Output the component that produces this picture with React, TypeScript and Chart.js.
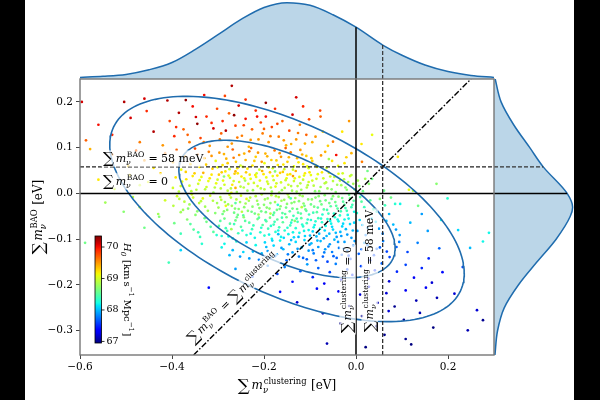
import React, { useEffect, useRef } from "react";
import { Chart, registerables } from "chart.js";
Chart.register(...registerables);

// ---------- axes ----------
const xRange = [-0.6, 0.3];
const yRange = [-0.353, 0.25];
const xTickValues = [-0.6, -0.4, -0.2, 0.0, 0.2];
const yTickValues = [-0.3, -0.2, -0.1, 0.0, 0.1, 0.2];
const refMass = 0.058; // 58 meV
const h0Range = [66.95, 70.35];
const h0Ticks = [67, 68, 69, 70];

// ---------- marginal densities (fraction of peak) ----------
const topGridX = [-0.6, -0.55, -0.5, -0.45, -0.4, -0.35, -0.3, -0.25, -0.2, -0.15, -0.1, -0.05, 0.0, 0.058, 0.1, 0.15, 0.2, 0.25, 0.3];
const topDensity = [0.02, 0.035, 0.06, 0.12, 0.215, 0.383, 0.578, 0.777, 0.933, 0.995, 0.961, 0.838, 0.675, 0.443, 0.31, 0.183, 0.098, 0.047, 0.021];
const rightGridY = [-0.353, -0.3, -0.25, -0.2, -0.15, -0.1, -0.05, -0.03, 0.0, 0.058, 0.1, 0.15, 0.2, 0.25];
const rightDensity = [0.012, 0.045, 0.13, 0.31, 0.545, 0.79, 0.97, 1.0, 0.93, 0.626, 0.455, 0.25, 0.09, 0.015];

// ---------- confidence contours ----------
const contourCenter = [-0.15, -0.034];
const contourSigma = [0.155, 0.099];
const contourRho = -0.57;
const contourLevels = [2.3, 6.18];

// ---------- MCMC samples: [sum m clustering, sum m BAO, H0] ----------
const samplesHigh: number[][] = [
  [-0.46,0.207,70.1],[-0.37,0.204,70.3],[-0.33,0.215,70.0],[-0.27,0.235,70.2],[-0.285,0.213,69.8],[-0.196,0.198,70.3],
  [-0.13,0.21,70.1],[-0.24,0.205,69.9],[-0.41,0.203,70.2],[-0.596,0.2,70.1],[-0.504,0.2,70.2],
  [-0.587,0.116,69.7],[-0.56,0.15,70.0],[-0.53,0.128,69.9],
  [-0.49,0.165,70.1],[-0.47,0.112,69.6],[-0.455,0.18,69.9],[-0.44,0.135,70.2],[-0.42,0.105,69.5],[-0.405,0.158,69.8],
  [-0.395,0.125,69.9],[-0.385,0.176,70.2],[-0.375,0.14,69.7],[-0.362,0.112,69.6],[-0.355,0.19,70.0],[-0.345,0.152,70.3],
  [-0.338,0.121,69.8],[-0.325,0.168,69.9],[-0.318,0.104,69.5],[-0.31,0.142,70.1],[-0.302,0.185,69.8],
  [-0.296,0.118,69.6],[-0.29,0.158,69.9],[-0.283,0.137,70.2],[-0.276,0.175,69.7],[-0.27,0.109,69.5],[-0.262,0.148,69.8],
  [-0.255,0.192,70.1],[-0.248,0.126,69.6],[-0.24,0.163,70.0],[-0.233,0.102,69.4],[-0.226,0.14,69.7],[-0.218,0.181,69.9],
  [-0.212,0.118,69.5],[-0.207,0.155,69.8],[-0.203,0.131,69.6],[-0.265,0.171,70.3],
  [-0.19,0.112,69.5],[-0.183,0.145,69.8],[-0.176,0.185,69.9],[-0.168,0.124,69.6],[-0.16,0.158,69.7],[-0.152,0.105,69.4],
  [-0.145,0.137,69.8],[-0.138,0.172,70.1],[-0.13,0.118,69.5],[-0.122,0.15,69.6],[-0.115,0.19,69.9],[-0.108,0.128,69.7],
  [-0.102,0.162,69.8],[-0.196,0.168,70.0],
  [-0.095,0.112,69.4],[-0.078,0.181,69.8],[-0.077,0.168,69.7],[-0.072,0.135,69.3],[-0.05,0.113,69.6],[-0.03,0.135,69.2],
  [-0.015,0.158,69.5],[0.035,0.128,69.1],[0.012,0.108,69.2],
  [-0.391,0.145,69.9],[-0.366,0.128,69.7],[-0.348,0.167,70.1],[-0.331,0.112,69.6],[-0.314,0.154,69.9],[-0.293,0.131,69.7],
  [-0.279,0.102,69.5],[-0.258,0.122,69.6],[-0.244,0.149,69.8],[-0.229,0.117,69.5],[-0.215,0.168,70.0],[-0.2,0.141,69.7],
  [-0.186,0.125,69.6],[-0.171,0.152,69.8],[-0.157,0.116,69.5],[-0.141,0.108,69.4],[-0.126,0.132,69.6],[-0.111,0.109,69.4],
  [-0.088,0.124,69.5],[-0.061,0.104,69.3],
];

const samplesUpper: number[][] = [
  [-0.578,0.097,69.4],[-0.53,0.085,69.6],
  [-0.495,0.06,69.3],[-0.478,0.093,69.7],[-0.46,0.072,69.5],[-0.44,0.056,69.2],[-0.415,0.088,69.6],
  [-0.398,0.068,69.4],[-0.39,0.095,69.7],[-0.38,0.052,69.1],[-0.372,0.081,69.5],[-0.36,0.064,69.3],[-0.35,0.098,69.8],
  [-0.34,0.058,69.2],[-0.33,0.077,69.4],[-0.32,0.091,69.6],[-0.312,0.054,69.3],[-0.305,0.071,69.1],
  [-0.297,0.089,69.5],[-0.29,0.062,69.2],[-0.282,0.076,69.4],[-0.275,0.053,69.0],[-0.268,0.096,69.7],[-0.261,0.069,69.3],
  [-0.254,0.084,69.5],[-0.246,0.058,69.1],[-0.24,0.073,69.4],[-0.232,0.092,69.6],[-0.225,0.061,69.2],[-0.218,0.08,69.3],
  [-0.21,0.052,69.0],[-0.205,0.069,69.5],[-0.258,0.055,69.2],[-0.228,0.099,69.7],
  [-0.197,0.087,69.4],[-0.19,0.057,69.1],[-0.184,0.073,69.3],[-0.177,0.094,69.6],[-0.17,0.062,69.2],[-0.163,0.08,69.5],
  [-0.156,0.053,69.0],[-0.149,0.069,69.3],[-0.142,0.09,69.6],[-0.135,0.059,69.1],[-0.128,0.077,69.4],[-0.121,0.095,69.5],
  [-0.115,0.064,69.2],[-0.108,0.082,69.3],[-0.103,0.055,69.0],[-0.153,0.099,69.7],
  [-0.095,0.071,69.3],[-0.067,0.091,69.4],[-0.059,0.075,68.8],[-0.043,0.084,70.0],[-0.085,0.058,69.1],[-0.025,0.066,69.2],
  [-0.01,0.088,69.4],[0.013,0.069,69.6],[0.091,0.08,69.2],
  [-0.326,0.063,69.3],[-0.314,0.082,69.5],[-0.301,0.057,69.1],[-0.287,0.086,69.4],[-0.279,0.066,69.3],[-0.266,0.078,69.6],
  [-0.251,0.061,69.0],[-0.243,0.087,69.4],[-0.236,0.054,69.2],[-0.221,0.071,69.3],[-0.213,0.089,69.5],[-0.199,0.066,69.1],
  [-0.193,0.081,69.4],[-0.181,0.055,69.0],[-0.173,0.072,69.3],[-0.166,0.088,69.5],[-0.158,0.063,69.2],[-0.146,0.079,69.4],
  [-0.137,0.052,69.0],[-0.125,0.068,69.2],[-0.117,0.085,69.4],[-0.106,0.059,69.1],[-0.097,0.077,69.3],[-0.088,0.062,69.2],
  [-0.076,0.083,69.5],[-0.064,0.056,69.0],[-0.052,0.071,69.2],[-0.039,0.06,69.1],[-0.021,0.079,69.3],[-0.344,0.085,69.6],
  [-0.56,0.03,69.2],[-0.525,0.01,69.0],
  [-0.492,0.04,69.2],[-0.47,0.018,69.0],[-0.452,0.025,69.1],[-0.425,0.044,69.3],
  [-0.398,0.012,69.0],[-0.392,0.035,69.2],[-0.385,0.004,68.9],[-0.378,0.026,69.1],[-0.37,0.047,69.3],[-0.362,0.017,69.0],
  [-0.355,0.038,69.2],[-0.347,0.008,68.9],[-0.34,0.029,69.1],[-0.332,0.045,69.4],[-0.325,0.014,69.0],[-0.318,0.033,69.2],
  [-0.31,0.002,68.8],[-0.304,0.022,69.1],
  [-0.298,0.041,69.3],[-0.294,0.011,68.9],[-0.289,0.028,69.1],[-0.284,0.048,69.2],[-0.279,0.006,68.9],[-0.274,0.034,69.0],
  [-0.269,0.019,69.2],[-0.264,0.043,69.3],[-0.259,0.003,68.8],[-0.254,0.025,69.0],[-0.249,0.037,69.2],[-0.244,0.013,68.9],
  [-0.239,0.046,69.3],[-0.234,0.021,69.0],[-0.229,0.032,69.1],[-0.224,0.007,68.8],[-0.219,0.04,69.2],[-0.214,0.016,69.0],
  [-0.209,0.028,69.1],[-0.204,0.049,69.4],[-0.287,0.037,68.7],[-0.262,0.012,69.4],[-0.241,0.028,68.8],[-0.216,0.044,69.0],
  [-0.271,0.001,69.1],
  [-0.199,0.009,68.9],[-0.195,0.035,69.1],[-0.191,0.021,69.0],[-0.187,0.046,69.3],[-0.183,0.004,68.8],[-0.179,0.029,69.0],
  [-0.175,0.015,69.1],[-0.171,0.039,69.2],[-0.167,0.002,68.8],[-0.163,0.024,69.0],[-0.159,0.047,69.3],[-0.155,0.012,68.9],
  [-0.151,0.033,69.1],[-0.147,0.019,69.0],[-0.143,0.042,69.2],[-0.139,0.006,68.8],[-0.135,0.027,69.0],[-0.131,0.049,69.4],
  [-0.127,0.016,68.9],[-0.123,0.036,69.1],[-0.119,0.008,68.8],[-0.115,0.03,69.0],[-0.111,0.044,69.2],[-0.107,0.013,68.9],
  [-0.103,0.025,69.0],[-0.176,0.048,68.7],[-0.137,0.038,69.5],
  [-0.098,0.04,69.1],[-0.092,0.017,68.9],[-0.086,0.032,69.0],[-0.08,0.005,68.7],[-0.074,0.046,69.2],[-0.068,0.022,68.9],
  [-0.062,0.011,68.8],[-0.056,0.037,69.0],[-0.05,0.027,68.9],[-0.044,0.003,68.7],[-0.038,0.043,69.1],[-0.032,0.018,68.8],
  [-0.026,0.031,68.9],[-0.02,0.008,68.7],[-0.013,0.038,69.0],[-0.006,0.021,68.8],
  [0.025,0.049,68.6],[0.035,0.032,68.6],[0.02,0.032,68.8],[0.007,0.016,68.7],[0.061,0.006,68.6],
  [0.124,0.006,68.9],[0.115,0.008,69.1],[0.175,0.021,68.7],
  [-0.381,0.016,69.0],[-0.369,0.031,69.2],[-0.358,0.005,68.9],[-0.351,0.044,69.3],[-0.343,0.021,69.0],[-0.336,0.036,69.1],
  [-0.328,0.009,68.9],[-0.321,0.027,69.1],[-0.314,0.041,69.2],[-0.307,0.013,68.9],[-0.301,0.03,69.0],[-0.292,0.046,69.3],
  [-0.286,0.019,69.0],[-0.277,0.039,69.1],[-0.272,0.011,68.9],[-0.266,0.027,69.0],[-0.257,0.044,69.2],[-0.251,0.015,68.9],
  [-0.243,0.033,69.1],[-0.236,0.006,68.8],[-0.231,0.041,69.2],[-0.222,0.023,69.0],[-0.217,0.036,69.1],[-0.207,0.011,68.9],
  [-0.201,0.042,69.2],[-0.193,0.026,69.0],[-0.185,0.013,68.9],[-0.181,0.038,69.1],[-0.173,0.022,69.0],[-0.165,0.045,69.3],
  [-0.161,0.007,68.8],[-0.153,0.029,69.0],[-0.149,0.041,69.2],[-0.141,0.016,68.9],[-0.133,0.033,69.1],[-0.129,0.004,68.8],
  [-0.121,0.022,68.9],[-0.113,0.039,69.1],[-0.105,0.018,68.9],[-0.101,0.046,69.2],[-0.095,0.028,69.0],[-0.089,0.005,68.7],
  [-0.083,0.042,69.1],[-0.077,0.014,68.8],[-0.071,0.033,69.0],[-0.065,0.024,68.9],[-0.059,0.045,69.1],[-0.053,0.009,68.7],
  [-0.047,0.036,68.9],[-0.041,0.019,68.8],[-0.035,0.028,68.9],[-0.029,0.044,69.0],[-0.023,0.013,68.7],[-0.017,0.025,68.8],
  [-0.01,0.04,68.9],[-0.003,0.009,68.7],[0.004,0.028,68.8],[0.015,0.005,68.6],[0.028,0.021,68.7],[-0.262,0.048,69.4],
];

const samplesCore: number[][] = [
  [-0.545,-0.02,68.8],[-0.505,-0.04,68.7],
  [-0.485,-0.008,68.9],[-0.47,-0.03,68.9],[-0.43,-0.045,68.8],[-0.415,-0.015,69.0],
  [-0.397,-0.027,68.9],[-0.389,-0.006,69.0],[-0.381,-0.041,68.8],[-0.373,-0.018,68.9],[-0.365,-0.033,68.7],[-0.357,-0.002,69.0],
  [-0.349,-0.047,68.7],[-0.341,-0.021,68.9],[-0.333,-0.011,69.1],[-0.322,-0.038,68.8],[-0.311,-0.016,68.9],
  [-0.299,-0.031,68.8],[-0.295,-0.008,68.9],[-0.29,-0.045,68.6],[-0.285,-0.019,68.8],[-0.28,-0.036,68.7],[-0.275,-0.003,69.0],
  [-0.27,-0.027,68.8],[-0.265,-0.042,68.6],[-0.26,-0.013,68.9],[-0.255,-0.034,68.7],[-0.25,-0.005,69.0],[-0.245,-0.048,68.5],
  [-0.24,-0.022,68.8],[-0.235,-0.038,68.7],[-0.23,-0.009,68.9],[-0.225,-0.029,68.7],[-0.22,-0.044,68.6],[-0.215,-0.016,68.8],
  [-0.21,-0.032,68.7],[-0.205,-0.002,68.9],[-0.283,-0.027,69.1],[-0.262,-0.021,68.5],[-0.238,-0.012,69.1],[-0.212,-0.046,68.8],
  [-0.248,-0.04,68.9],
  [-0.2,-0.025,68.7],[-0.196,-0.041,68.6],[-0.192,-0.011,68.8],[-0.188,-0.033,68.7],[-0.184,-0.004,68.9],[-0.18,-0.047,68.5],
  [-0.176,-0.019,68.8],[-0.172,-0.036,68.6],[-0.168,-0.008,68.9],[-0.164,-0.028,68.7],[-0.16,-0.043,68.5],[-0.156,-0.014,68.8],
  [-0.152,-0.031,68.6],[-0.148,-0.002,68.9],[-0.144,-0.039,68.5],[-0.14,-0.021,68.7],[-0.136,-0.049,68.4],[-0.132,-0.01,68.8],
  [-0.128,-0.034,68.6],[-0.124,-0.017,68.7],[-0.12,-0.044,68.5],[-0.116,-0.006,68.8],[-0.112,-0.027,68.6],[-0.108,-0.038,68.5],
  [-0.104,-0.013,68.7],[-0.17,-0.025,68.3],[-0.142,-0.011,68.4],[-0.186,-0.044,68.9],[-0.118,-0.03,68.9],
  [-0.098,-0.024,68.6],[-0.093,-0.042,68.4],[-0.088,-0.009,68.7],[-0.083,-0.031,68.5],[-0.078,-0.017,68.6],[-0.073,-0.046,68.3],
  [-0.068,-0.004,68.7],[-0.063,-0.036,68.4],[-0.058,-0.021,68.6],[-0.053,-0.012,68.6],[-0.048,-0.044,68.3],[-0.043,-0.027,68.5],
  [-0.038,-0.007,68.7],[-0.033,-0.039,68.4],[-0.028,-0.018,68.5],[-0.023,-0.032,68.4],[-0.018,-0.047,68.2],[-0.013,-0.011,68.6],
  [-0.008,-0.025,68.4],[-0.004,-0.04,68.2],
  [0.076,-0.009,68.6],[0.096,-0.023,68.2],[0.085,-0.023,68.3],[0.012,-0.018,68.5],[0.038,-0.035,68.4],[0.052,-0.012,68.7],
  [0.135,-0.027,68.6],[0.143,-0.045,67.9],[0.199,-0.011,68.3],
  [-0.384,-0.012,68.9],[-0.376,-0.036,68.8],[-0.362,-0.024,68.8],[-0.354,-0.009,69.0],[-0.345,-0.039,68.7],[-0.337,-0.017,68.9],
  [-0.328,-0.029,68.8],[-0.317,-0.005,69.0],[-0.306,-0.043,68.7],[-0.302,-0.021,68.8],[-0.293,-0.014,68.9],[-0.287,-0.039,68.7],
  [-0.278,-0.024,68.8],[-0.272,-0.009,68.9],[-0.263,-0.033,68.7],[-0.257,-0.047,68.6],[-0.252,-0.019,68.8],[-0.243,-0.03,68.7],
  [-0.233,-0.016,68.8],[-0.227,-0.04,68.6],[-0.218,-0.006,68.9],[-0.213,-0.024,68.7],[-0.206,-0.039,68.6],[-0.198,-0.013,68.8],
  [-0.194,-0.031,68.7],[-0.186,-0.021,68.7],[-0.178,-0.042,68.5],[-0.174,-0.006,68.9],[-0.166,-0.034,68.6],[-0.162,-0.016,68.8],
  [-0.154,-0.045,68.5],[-0.15,-0.023,68.7],[-0.146,-0.008,68.8],[-0.138,-0.033,68.6],[-0.134,-0.019,68.7],[-0.126,-0.042,68.5],
  [-0.122,-0.004,68.8],[-0.114,-0.022,68.7],[-0.11,-0.035,68.6],[-0.102,-0.046,68.4],[-0.096,-0.013,68.7],[-0.091,-0.029,68.6],
  [-0.085,-0.041,68.5],[-0.081,-0.006,68.7],[-0.075,-0.024,68.6],[-0.07,-0.035,68.5],[-0.066,-0.015,68.6],[-0.06,-0.044,68.4],
  [-0.055,-0.028,68.5],[-0.05,-0.006,68.7],[-0.045,-0.019,68.6],[-0.04,-0.033,68.5],[-0.035,-0.048,68.3],[-0.03,-0.01,68.6],
  [-0.025,-0.025,68.5],[-0.02,-0.038,68.4],[-0.015,-0.003,68.6],[-0.01,-0.03,68.4],[-0.005,-0.016,68.5],[0.002,-0.043,68.3],
  [0.009,-0.008,68.5],[0.018,-0.03,68.4],[0.031,-0.015,68.5],[0.045,-0.04,68.3],[0.063,-0.026,68.4],
  [-0.428,-0.051,68.7],[-0.46,-0.075,68.6],
  [-0.395,-0.065,68.6],[-0.381,-0.088,68.4],[-0.367,-0.057,68.7],[-0.353,-0.079,68.5],[-0.339,-0.095,68.4],[-0.325,-0.062,68.6],
  [-0.31,-0.084,68.5],
  [-0.298,-0.071,68.5],[-0.292,-0.093,68.3],[-0.286,-0.055,68.6],[-0.28,-0.082,68.4],[-0.274,-0.066,68.5],[-0.268,-0.098,68.2],
  [-0.262,-0.059,68.6],[-0.256,-0.087,68.4],[-0.25,-0.073,68.5],[-0.244,-0.052,68.7],[-0.238,-0.091,68.3],[-0.232,-0.064,68.5],
  [-0.226,-0.078,68.4],[-0.22,-0.097,68.2],[-0.214,-0.056,68.6],[-0.208,-0.085,68.3],[-0.203,-0.069,68.5],[-0.271,-0.078,68.8],
  [-0.199,-0.092,68.3],[-0.195,-0.061,68.5],[-0.191,-0.077,68.4],[-0.187,-0.053,68.6],[-0.183,-0.099,68.2],[-0.179,-0.068,68.4],
  [-0.175,-0.084,68.3],[-0.171,-0.057,68.5],[-0.167,-0.074,68.4],[-0.163,-0.095,68.2],[-0.159,-0.063,68.5],[-0.155,-0.081,68.3],
  [-0.151,-0.052,68.6],[-0.147,-0.089,68.2],[-0.143,-0.07,68.4],[-0.139,-0.058,68.5],[-0.135,-0.096,68.1],[-0.131,-0.076,68.3],
  [-0.127,-0.062,68.4],[-0.123,-0.086,68.2],[-0.119,-0.054,68.5],[-0.115,-0.072,68.3],[-0.111,-0.093,68.1],[-0.107,-0.065,68.4],
  [-0.103,-0.08,68.2],[-0.169,-0.089,68.0],[-0.133,-0.06,68.7],
  [-0.098,-0.058,68.3],[-0.094,-0.083,68.1],[-0.09,-0.069,68.2],[-0.086,-0.094,68.0],[-0.082,-0.054,68.4],[-0.078,-0.077,68.2],
  [-0.074,-0.063,68.3],[-0.07,-0.098,67.9],[-0.066,-0.071,68.2],[-0.062,-0.056,68.3],[-0.058,-0.088,68.0],[-0.054,-0.066,68.2],
  [-0.05,-0.079,68.1],[-0.046,-0.052,68.3],[-0.042,-0.095,67.9],[-0.038,-0.061,68.2],[-0.034,-0.084,68.0],[-0.03,-0.072,68.1],
  [-0.025,-0.057,68.2],[-0.019,-0.09,67.9],[-0.013,-0.067,68.1],[-0.007,-0.081,68.0],
  [0.072,-0.045,68.0],[0.008,-0.058,68.1],[0.025,-0.075,67.9],[0.043,-0.062,68.1],[0.058,-0.088,67.8],[0.081,-0.068,68.0],
  [0.095,-0.091,67.9],[0.118,-0.064,68.0],[0.156,-0.082,67.9],[0.185,-0.058,68.2],[0.222,-0.08,68.1],[0.289,-0.086,68.2],
  [-0.36,-0.067,68.5],[-0.343,-0.085,68.4],[-0.329,-0.054,68.6],[-0.316,-0.073,68.5],[-0.303,-0.091,68.3],[-0.295,-0.06,68.5],
  [-0.283,-0.076,68.4],[-0.277,-0.094,68.2],[-0.265,-0.067,68.4],[-0.259,-0.052,68.6],[-0.247,-0.081,68.3],[-0.241,-0.06,68.5],
  [-0.229,-0.088,68.2],[-0.223,-0.07,68.4],[-0.211,-0.053,68.5],[-0.206,-0.075,68.3],[-0.197,-0.058,68.4],[-0.189,-0.09,68.2],
  [-0.185,-0.071,68.3],[-0.177,-0.062,68.4],[-0.169,-0.081,68.2],[-0.161,-0.053,68.4],[-0.157,-0.097,68.1],[-0.149,-0.075,68.3],
  [-0.141,-0.064,68.3],[-0.137,-0.085,68.2],[-0.129,-0.055,68.4],[-0.125,-0.095,68.0],[-0.117,-0.068,68.3],[-0.113,-0.082,68.2],
  [-0.105,-0.057,68.3],[-0.1,-0.092,68.0],[-0.092,-0.074,68.2],[-0.088,-0.061,68.3],[-0.08,-0.088,68.0],[-0.076,-0.055,68.3],
  [-0.068,-0.081,68.1],[-0.064,-0.093,68.0],[-0.056,-0.06,68.2],[-0.052,-0.073,68.1],[-0.044,-0.086,68.0],[-0.04,-0.057,68.2],
  [-0.032,-0.093,67.9],[-0.028,-0.066,68.1],[-0.022,-0.078,68.0],[-0.016,-0.055,68.2],[-0.01,-0.097,67.9],[-0.004,-0.064,68.1],
  [0.003,-0.082,67.9],[0.014,-0.069,68.0],[0.021,-0.091,67.8],[0.034,-0.055,68.1],[0.05,-0.077,67.9],[0.066,-0.06,68.0],
  [0.087,-0.079,67.9],
];

const samplesLower: number[][] = [
  [-0.589,-0.108,68.6],[-0.381,-0.124,68.1],[-0.335,-0.11,68.3],
  [-0.292,-0.118,68.2],[-0.275,-0.135,68.0],[-0.26,-0.105,68.3],[-0.245,-0.128,68.1],[-0.232,-0.142,67.9],[-0.218,-0.113,68.2],
  [-0.205,-0.131,68.0],
  [-0.198,-0.107,68.1],[-0.192,-0.126,67.9],[-0.186,-0.141,67.8],[-0.179,-0.114,68.1],[-0.172,-0.133,67.9],[-0.165,-0.103,68.2],
  [-0.158,-0.122,68.0],[-0.151,-0.146,67.7],[-0.145,-0.111,68.0],[-0.138,-0.129,67.9],[-0.131,-0.106,68.1],[-0.124,-0.138,67.8],
  [-0.118,-0.118,68.0],[-0.112,-0.102,68.1],[-0.107,-0.144,67.7],[-0.103,-0.125,67.9],
  [-0.097,-0.109,68.0],[-0.092,-0.131,67.8],[-0.087,-0.146,67.7],[-0.082,-0.117,67.9],[-0.077,-0.104,68.0],[-0.072,-0.138,67.7],
  [-0.067,-0.122,67.9],[-0.062,-0.149,67.6],[-0.057,-0.111,67.9],[-0.052,-0.128,67.8],[-0.047,-0.101,68.0],[-0.042,-0.141,67.7],
  [-0.037,-0.119,67.8],[-0.031,-0.134,67.7],[-0.025,-0.106,67.9],[-0.019,-0.125,67.8],[-0.012,-0.143,67.6],[-0.006,-0.114,67.8],
  [0.006,-0.132,67.7],[0.018,-0.108,67.9],[0.031,-0.146,67.5],[0.045,-0.121,67.7],[0.059,-0.104,67.8],[0.073,-0.139,67.6],
  [0.088,-0.117,67.7],[0.112,-0.128,67.6],[0.134,-0.108,67.8],[0.158,-0.142,67.5],[0.181,-0.12,67.7],[0.248,-0.119,68.0],
  [0.276,-0.105,68.2],
  [-0.286,-0.11,68.2],[-0.268,-0.124,68.0],[-0.252,-0.138,67.9],[-0.238,-0.107,68.1],[-0.224,-0.127,68.0],[-0.211,-0.145,67.8],
  [-0.195,-0.117,68.0],[-0.182,-0.103,68.1],[-0.176,-0.137,67.8],[-0.162,-0.119,67.9],[-0.148,-0.133,67.8],[-0.141,-0.102,68.0],
  [-0.127,-0.121,67.9],[-0.115,-0.141,67.7],[-0.101,-0.112,67.9],[-0.094,-0.124,67.8],[-0.084,-0.103,68.0],[-0.069,-0.129,67.8],
  [-0.06,-0.116,67.8],[-0.049,-0.137,67.7],[-0.039,-0.106,67.9],[-0.027,-0.121,67.8],[-0.016,-0.136,67.6],[-0.003,-0.104,67.9],
  [0.012,-0.122,67.7],[0.025,-0.113,67.8],[0.039,-0.135,67.6],[0.052,-0.118,67.7],[0.067,-0.127,67.6],[0.094,-0.106,67.8],
  [-0.407,-0.151,68.4],[-0.262,-0.165,67.9],[-0.225,-0.182,67.6],
  [-0.192,-0.158,67.8],[-0.171,-0.176,67.6],[-0.155,-0.161,67.8],[-0.138,-0.193,67.4],[-0.121,-0.17,67.7],[-0.106,-0.155,67.9],
  [-0.094,-0.183,67.5],[-0.082,-0.163,67.7],[-0.069,-0.197,67.3],[-0.057,-0.172,67.6],[-0.044,-0.154,67.8],[-0.032,-0.188,67.4],
  [-0.019,-0.166,67.6],[-0.008,-0.178,67.5],
  [0.011,-0.159,67.6],[0.027,-0.186,67.3],[0.041,-0.168,67.5],[0.056,-0.153,67.7],[0.072,-0.192,67.2],[0.089,-0.171,67.5],
  [0.108,-0.156,67.6],[0.126,-0.184,67.3],[0.143,-0.163,67.5],[0.165,-0.195,67.2],[0.188,-0.172,67.4],[0.232,-0.161,67.6],
];

const samplesTail: number[][] = [
  [-0.32,-0.206,67.4],[-0.165,-0.215,67.4],[-0.128,-0.238,67.2],
  [-0.085,-0.208,67.4],[-0.061,-0.231,67.1],[-0.038,-0.214,67.3],[-0.015,-0.246,67.0],
  [0.009,-0.221,67.2],[0.028,-0.204,67.4],[0.047,-0.239,67.1],[0.066,-0.218,67.2],[0.084,-0.247,67.0],
  [0.108,-0.212,67.3],[0.131,-0.234,67.1],[0.152,-0.206,67.3],[0.176,-0.228,67.1],[0.214,-0.219,67.2],
  [-0.072,-0.262,67.1],[-0.034,-0.284,66.9],[0.013,-0.268,67.0],[0.044,-0.29,67.0],[0.071,-0.257,67.2],[0.104,-0.276,67.0],
  [0.139,-0.261,67.1],[0.168,-0.293,66.9],[0.263,-0.255,67.2],[0.276,-0.277,67.0],
  [-0.063,-0.328,67.1],[0.021,-0.336,66.9],[0.062,-0.309,67.0],[0.108,-0.318,67.0],[0.12,-0.33,66.9],[0.243,-0.299,67.1],
];

// ---------- styling ----------
const SERIF = '"DejaVu Serif", "Liberation Serif", serif';
const C0 = "#1f6cae";
const C0_FILL = "rgba(31,119,180,0.3)";

// matplotlib "jet"
const jetR = [[0, 0], [0.35, 0], [0.66, 1], [0.89, 1], [1, 0.5]];
const jetG = [[0, 0], [0.125, 0], [0.375, 1], [0.64, 1], [0.91, 0], [1, 0]];
const jetB = [[0, 0.5], [0.11, 1], [0.34, 1], [0.65, 0], [1, 0]];
function seg(s: number[][], t: number) {
  for (let i = 1; i < s.length; i++) {
    if (t <= s[i][0]) {
      const [x0, y0] = s[i - 1];
      const [x1, y1] = s[i];
      return y0 + ((t - x0) / (x1 - x0)) * (y1 - y0);
    }
  }
  return s[s.length - 1][1];
}
function jet(t: number) {
  const c = Math.max(0, Math.min(1, t));
  return `rgb(${Math.round(255 * seg(jetR, c))},${Math.round(255 * seg(jetG, c))},${Math.round(255 * seg(jetB, c))})`;
}
const h0Color = (h: number) => jet((h - h0Range[0]) / (h0Range[1] - h0Range[0]));

// ---------- math text ----------
type Tok =
  | { k: "sum" }
  | { k: "rm"; t: string }
  | { k: "it"; t: string }
  | { k: "ss"; sub?: string; sup?: string };
const fnt = (s: number, it: boolean) => `${it ? "italic " : ""}${s}px ${SERIF}`;
function runMath(ctx: CanvasRenderingContext2D, toks: Tok[], fs: number, draw: boolean) {
  let x = 0;
  for (const tk of toks) {
    if (tk.k === "sum") {
      ctx.font = fnt(fs * 1.4, false);
      if (draw) ctx.fillText("\u2211", x, fs * 0.14);
      x += ctx.measureText("\u2211").width + fs * 0.15;
    } else if (tk.k === "rm" || tk.k === "it") {
      ctx.font = fnt(fs, tk.k === "it");
      if (draw) ctx.fillText(tk.t, x, 0);
      x += ctx.measureText(tk.t).width;
    } else {
      const s = fs * 0.7;
      let w = 0;
      if (tk.sub) {
        ctx.font = fnt(s, true);
        if (draw) ctx.fillText(tk.sub, x, fs * 0.3);
        w = Math.max(w, ctx.measureText(tk.sub).width);
      }
      if (tk.sup) {
        ctx.font = fnt(s, false);
        const dx = tk.sub ? fs * 0.06 : 0;
        if (draw) ctx.fillText(tk.sup, x + dx, -fs * 0.45);
        w = Math.max(w, ctx.measureText(tk.sup).width + dx);
      }
      x += w + fs * 0.06;
    }
  }
  return x;
}
function drawMath(
  ctx: CanvasRenderingContext2D, toks: Tok[], fs: number, px: number, py: number,
  angle: number, align: "left" | "center", box: boolean
) {
  ctx.save();
  ctx.translate(px, py);
  ctx.rotate(angle);
  ctx.textBaseline = "alphabetic";
  ctx.textAlign = "left";
  const w = runMath(ctx, toks, fs, false);
  const x0 = align === "center" ? -w / 2 : 0;
  if (box) {
    ctx.fillStyle = "rgba(255,255,255,0.7)";
    ctx.fillRect(x0 - 1.5, -fs * 1.05, w + 3, fs * 1.5);
  }
  ctx.translate(x0, 0);
  ctx.fillStyle = "#000";
  runMath(ctx, toks, fs, true);
  ctx.restore();
}
const mBAO: Tok[] = [{ k: "sum" }, { k: "it", t: "m" }, { k: "ss", sub: "\u03bd", sup: "BAO" }];
const mClus: Tok[] = [{ k: "sum" }, { k: "it", t: "m" }, { k: "ss", sub: "\u03bd", sup: "clustering" }];

const fmtTick = (v: number) => (v < 0 ? "\u2212" : "") + Math.abs(v).toFixed(1);

export default function App() {
  const mainRef = useRef<HTMLCanvasElement>(null);
  const topRef = useRef<HTMLCanvasElement>(null);
  const rightRef = useRef<HTMLCanvasElement>(null);

  useEffect(() => {
    const samples = [...samplesHigh, ...samplesUpper, ...samplesCore, ...samplesLower, ...samplesTail];
    const ellipse = (k: number) => {
      const pts: { x: number; y: number }[] = [];
      const r = Math.sqrt(k);
      const q = Math.sqrt(1 - contourRho * contourRho);
      for (let i = 0; i <= 180; i++) {
        const th = (i / 180) * 2 * Math.PI;
        pts.push({
          x: contourCenter[0] + r * contourSigma[0] * Math.cos(th),
          y: contourCenter[1] + r * contourSigma[1] * (contourRho * Math.cos(th) + q * Math.sin(th)),
        });
      }
      return pts;
    };
    const lineDs = (data: { x: number; y: number }[], color: string, width: number, dash: number[] = []) => ({
      type: "scatter" as const,
      data,
      showLine: true,
      borderColor: color,
      borderWidth: width,
      borderDash: dash,
      pointRadius: 0,
      fill: false,
      tension: 0,
      order: 1,
    });

    const tickFont = { family: SERIF, size: 10.5 };

    const overlay = {
      id: "overlay",
      afterDatasetsDraw(chart: any) {
        const ctx: CanvasRenderingContext2D = chart.ctx;
        const xs = chart.scales.x;
        const ys = chart.scales.y;
        const ca = chart.chartArea;
        const X = (v: number) => xs.getPixelForValue(v);
        const Y = (v: number) => ys.getPixelForValue(v);
        const fs = 11;
        ctx.save();
        ctx.strokeStyle = "#777";
        ctx.lineWidth = 1.4;
        ctx.strokeRect(ca.left, ca.top, ca.right - ca.left, ca.bottom - ca.top);
        ctx.restore();
        drawMath(ctx, [...mBAO, { k: "rm", t: " = 58 meV" }], fs, X(-0.55), Y(0.069), 0, "left", true);
        drawMath(ctx, [...mBAO, { k: "rm", t: " = 0" }], fs, X(-0.55), Y(0.019), 0, "left", true);
        drawMath(ctx, [...mClus, { k: "rm", t: " = 0" }], fs, X(-0.011), Y(-0.305), -Math.PI / 2, "left", true);
        drawMath(ctx, [...mClus, { k: "rm", t: " = 58 meV" }], fs, X(0.037), Y(-0.303), -Math.PI / 2, "left", true);
        const ang = Math.atan2(Y(0.2) - Y(-0.3), X(0.2) - X(-0.3));
        drawMath(ctx, [...mBAO, { k: "rm", t: " = " }, ...mClus], fs, X(-0.356), Y(-0.327), ang, "left", true);
        drawMath(ctx, [...mClus, { k: "rm", t: " [eV]" }], 12, (ca.left + ca.right) / 2, 389, 0, "center", false);
        drawMath(ctx, [...mBAO, { k: "rm", t: " [eV]" }], 12, 42, (ca.top + ca.bottom) / 2, -Math.PI / 2, "center", false);
        const cbL = 95, cbT = 236, cbW = 6.5, cbH = 107;
        const g = ctx.createLinearGradient(0, cbT + cbH, 0, cbT);
        for (let i = 0; i <= 40; i++) g.addColorStop(i / 40, jet(i / 40));
        ctx.save();
        ctx.fillStyle = g;
        ctx.fillRect(cbL, cbT, cbW, cbH);
        ctx.strokeStyle = "#000";
        ctx.lineWidth = 0.8;
        ctx.strokeRect(cbL, cbT, cbW, cbH);
        ctx.font = `9.5px ${SERIF}`;
        ctx.fillStyle = "#000";
        ctx.textAlign = "left";
        ctx.textBaseline = "middle";
        for (const v of h0Ticks) {
          const py = cbT + cbH - ((v - h0Range[0]) / (h0Range[1] - h0Range[0])) * cbH;
          ctx.beginPath();
          ctx.moveTo(cbL + cbW, py);
          ctx.lineTo(cbL + cbW + 3, py);
          ctx.stroke();
          ctx.fillText(String(v), cbL + cbW + 5, py);
        }
        ctx.restore();
        drawMath(
          ctx,
          [{ k: "it", t: "H" }, { k: "ss", sub: "0" }, { k: "rm", t: " [km\u2009s" }, { k: "ss", sup: "\u22121" },
           { k: "rm", t: "\u2009Mpc" }, { k: "ss", sup: "\u22121" }, { k: "rm", t: "]" }],
          10, 124, 243, Math.PI / 2, "left", false
        );
      },
    };

    const main = new Chart(mainRef.current!, {
      type: "scatter",
      data: {
        datasets: [
          {
            data: samples.map(([x, y]) => ({ x, y })),
            pointRadius: 1.35,
            pointBorderWidth: 0,
            pointBackgroundColor: samples.map(([, , h]) => h0Color(h)),
            order: 10,
          } as any,
          { ...lineDs(ellipse(contourLevels[0]), C0, 1.6), order: 5 },
          { ...lineDs(ellipse(contourLevels[1]), C0, 1.6), order: 5 },
          lineDs([{ x: xRange[0], y: 0 }, { x: xRange[1], y: 0 }], "#000", 1.5),
          lineDs([{ x: xRange[0], y: refMass }, { x: xRange[1], y: refMass }], "#222", 1.2, [4, 2]),
          lineDs([{ x: 0, y: yRange[0] }, { x: 0, y: yRange[1] }], "#000", 1.5),
          lineDs([{ x: refMass, y: yRange[0] }, { x: refMass, y: yRange[1] }], "#222", 1.2, [4, 2]),
          lineDs([{ x: yRange[0], y: yRange[0] }, { x: yRange[1], y: yRange[1] }], "#000", 1.4, [6, 2, 1.5, 2]),
        ] as any,
      },
      options: {
        responsive: false,
        animation: false,
        devicePixelRatio: 1,
        layout: { padding: { left: 25, top: 79, right: 106, bottom: 0 } },
        plugins: { legend: { display: false }, tooltip: { enabled: false } },
        scales: {
          x: {
            type: "linear",
            min: xRange[0],
            max: xRange[1],
            afterBuildTicks: (s: any) => { s.ticks = xTickValues.map((value) => ({ value })); },
            afterFit: (s: any) => { s.height = 45; },
            ticks: { callback: (v: any) => fmtTick(Number(v)), font: tickFont, color: "#000", padding: 2, maxRotation: 0, autoSkip: false },
            grid: { drawOnChartArea: false, drawTicks: true, tickLength: 4, color: "#444" },
            border: { display: false },
          },
          y: {
            type: "linear",
            min: yRange[0],
            max: yRange[1],
            afterBuildTicks: (s: any) => { s.ticks = yTickValues.map((value) => ({ value })); },
            afterFit: (s: any) => { s.width = 55; },
            ticks: { callback: (v: any) => fmtTick(Number(v)), font: tickFont, color: "#000", padding: 3, autoSkip: false },
            grid: { drawOnChartArea: false, drawTicks: true, tickLength: 4, color: "#444" },
            border: { display: false },
          },
        },
      } as any,
      plugins: [overlay],
    });

    const i0 = topGridX.indexOf(0);
    const iRef = topGridX.indexOf(refMass);
    const top = new Chart(topRef.current!, {
      type: "line",
      data: {
        datasets: [
          {
            data: topGridX.map((x, i) => ({ x, y: topDensity[i] })),
            borderColor: C0, borderWidth: 1.5, backgroundColor: C0_FILL, fill: "origin",
            pointRadius: 0, cubicInterpolationMode: "monotone", order: 2,
          },
          { data: [{ x: 0, y: 0 }, { x: 0, y: topDensity[i0] }], borderColor: "#000", borderWidth: 1.5, pointRadius: 0, fill: false, order: 1 },
          { data: [{ x: refMass, y: 0 }, { x: refMass, y: topDensity[iRef] }], borderColor: "#333", borderWidth: 1.2, borderDash: [4, 2], pointRadius: 0, fill: false, order: 1 },
        ] as any,
      },
      options: {
        responsive: false, animation: false, devicePixelRatio: 1,
        layout: { padding: 0 },
        plugins: { legend: { display: false }, tooltip: { enabled: false } },
        scales: {
          x: { type: "linear", display: false, min: xRange[0], max: xRange[1] },
          y: { type: "linear", display: false, min: 0, max: 1.03 },
        },
      } as any,
    });

    const j0 = rightGridY.indexOf(0);
    const jRef = rightGridY.indexOf(refMass);
    const right = new Chart(rightRef.current!, {
      type: "line",
      data: {
        datasets: [
          {
            data: rightGridY.map((y, i) => ({ x: rightDensity[i], y })),
            borderColor: C0, borderWidth: 1.5, backgroundColor: C0_FILL, fill: "origin",
            pointRadius: 0, cubicInterpolationMode: "monotone", order: 2,
          },
          { data: [{ x: 0, y: 0 }, { x: rightDensity[j0], y: 0 }], borderColor: "#000", borderWidth: 1.5, pointRadius: 0, fill: false, order: 1 },
          { data: [{ x: 0, y: refMass }, { x: rightDensity[jRef], y: refMass }], borderColor: "#333", borderWidth: 1.2, borderDash: [4, 2], pointRadius: 0, fill: false, order: 1 },
        ] as any,
      },
      options: {
        indexAxis: "y",
        responsive: false, animation: false, devicePixelRatio: 1,
        layout: { padding: 0 },
        plugins: { legend: { display: false }, tooltip: { enabled: false } },
        scales: {
          x: { type: "linear", display: false, min: 0, max: 1.03 },
          y: { type: "linear", display: false, min: yRange[0], max: yRange[1] },
        },
      } as any,
    });

    return () => {
      main.destroy();
      top.destroy();
      right.destroy();
    };
  }, []);

  return (
    <div style={{ position: "fixed", left: 0, top: 0, width: 600, height: 400, background: "#000", overflow: "hidden" }}>
      <div style={{ position: "absolute", left: 25, top: 0, width: 549, height: 400, background: "#fff" }} />
      <canvas ref={topRef} width={414} height={79} style={{ position: "absolute", left: 80, top: 0 }} />
      <canvas ref={rightRef} width={81} height={276} style={{ position: "absolute", left: 494, top: 79 }} />
      <canvas ref={mainRef} width={600} height={400} style={{ position: "absolute", left: 0, top: 0 }} />
    </div>
  );
}
